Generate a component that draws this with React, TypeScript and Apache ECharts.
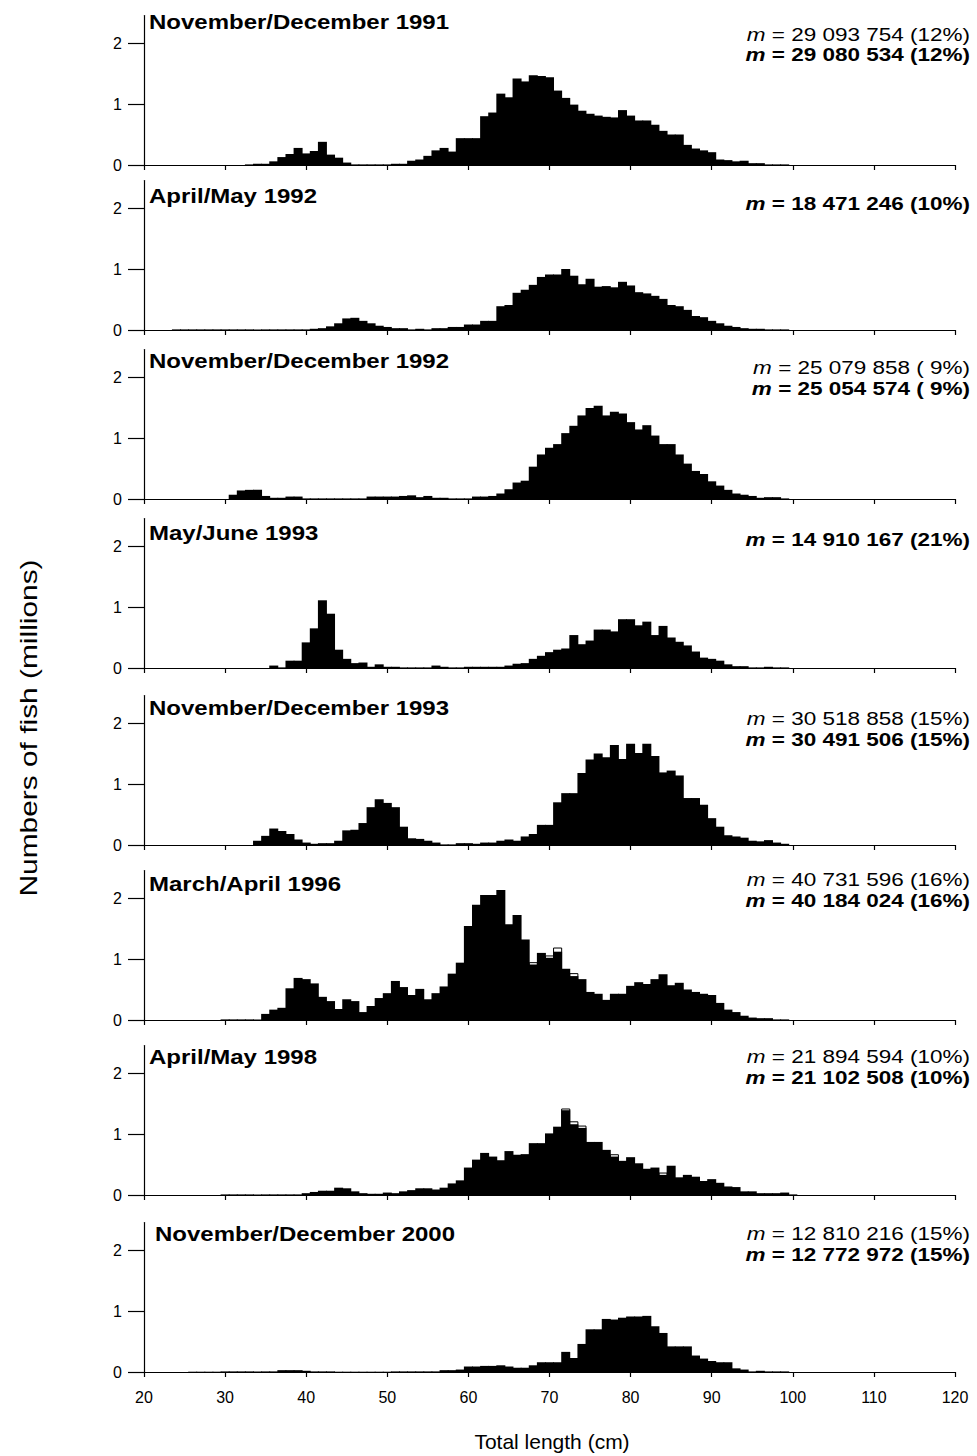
import React, { useEffect, useRef } from "react";
import * as echarts from "echarts";

// Length-frequency histograms, 1-cm classes (value = millions of fish)
const lengthMin = 20;
const lengthMax = 120;
const lengthStep = 10;
const yTickValues = [0, 1, 2];

const panelTitles = [
  "November/December 1991",
  "April/May 1992",
  "November/December 1992",
  "May/June 1993",
  "November/December 1993",
  "March/April 1996",
  "April/May 1998",
  "November/December 2000",
];

// abundance estimates: plain line (all samples) and bold line (analysed samples)
const mPlain = [
  "29 093 754 (12%)",
  null,
  "25 079 858 ( 9%)",
  null,
  "30 518 858 (15%)",
  "40 731 596 (16%)",
  "21 894 594 (10%)",
  "12 810 216 (15%)",
];
const mBold = [
  "29 080 534 (12%)",
  "18 471 246 (10%)",
  "25 054 574 ( 9%)",
  "14 910 167 (21%)",
  "30 491 506 (15%)",
  "40 184 024 (16%)",
  "21 102 508 (10%)",
  "12 772 972 (15%)",
];

const nd1991Start = 33;
const nd1991 = [
  0.01, 0.02, 0.02, 0.06, 0.13, 0.18, 0.28, 0.19, 0.23, 0.38, 0.17, 0.12, 0.04, 0.01, 0.01, 0.01, 0.01, 0.01,
  0.02, 0.02, 0.07, 0.09, 0.15, 0.24, 0.28, 0.22, 0.44, 0.44, 0.44, 0.8, 0.86, 1.17, 1.11, 1.42, 1.37, 1.47,
  1.46, 1.44, 1.22, 1.1, 0.99, 0.89, 0.84, 0.81, 0.79, 0.78, 0.9, 0.81, 0.73, 0.73, 0.66, 0.56, 0.5, 0.5, 0.33,
  0.27, 0.24, 0.21, 0.09, 0.08, 0.06, 0.07, 0.03, 0.03, 0.01, 0.01, 0.01,
];

const am1992Start = 24;
const am1992 = [
  0.01, 0.01, 0.01, 0.01, 0.01, 0.01, 0.01, 0.01, 0.01, 0.01, 0.01, 0.01, 0.01, 0.01, 0.01, 0.01, 0.01,
  0.02, 0.03, 0.06, 0.11, 0.19, 0.2, 0.15, 0.11, 0.07, 0.05, 0.03, 0.03, 0.01, 0.02, 0.01, 0.03, 0.03, 0.05,
  0.05, 0.09, 0.09, 0.15, 0.15, 0.39, 0.41, 0.61, 0.66, 0.74, 0.87, 0.91, 0.91, 1.0, 0.89, 0.75, 0.84, 0.71,
  0.72, 0.7, 0.79, 0.73, 0.62, 0.6, 0.56, 0.51, 0.41, 0.39, 0.33, 0.23, 0.21, 0.15, 0.11, 0.07, 0.05, 0.03,
  0.02, 0.02, 0.01, 0.01, 0.01,
];

const nd1992Start = 31;
const nd1992 = [
  0.07, 0.14, 0.15, 0.15, 0.05, 0.02, 0.02, 0.04, 0.04, 0.01, 0.01, 0.01, 0.01, 0.01, 0.01, 0.01, 0.01, 0.04,
  0.04, 0.04, 0.04, 0.05, 0.06, 0.03, 0.05, 0.02, 0.02, 0.01, 0.01, 0.01, 0.04, 0.04, 0.05, 0.09, 0.16, 0.27,
  0.3, 0.53, 0.73, 0.84, 0.9, 1.08, 1.2, 1.37, 1.49, 1.53, 1.37, 1.43, 1.4, 1.26, 1.14, 1.21, 1.04, 0.9, 0.9,
  0.73, 0.58, 0.46, 0.41, 0.29, 0.22, 0.15, 0.09, 0.07, 0.05, 0.02, 0.03, 0.03, 0.01,
];

const mj1993Start = 36;
const mj1993 = [
  0.04, 0.01, 0.12, 0.12, 0.42, 0.65, 1.11, 0.89, 0.3, 0.15, 0.08, 0.09, 0.02, 0.06, 0.02, 0.02, 0.01, 0.01,
  0.01, 0.01, 0.04, 0.02, 0.01, 0.01, 0.02, 0.02, 0.02, 0.02, 0.02, 0.04, 0.07, 0.08, 0.15, 0.2, 0.26, 0.3,
  0.32, 0.54, 0.39, 0.45, 0.63, 0.63, 0.6, 0.8, 0.8, 0.7, 0.76, 0.54, 0.69, 0.5, 0.43, 0.37, 0.27, 0.17, 0.15,
  0.12, 0.06, 0.03, 0.03, 0.01, 0.01, 0.02, 0.01, 0.01,
];

const nd1993Start = 34;
const nd1993 = [
  0.07, 0.15, 0.27, 0.23, 0.18, 0.09, 0.04, 0.02, 0.03, 0.03, 0.07, 0.24, 0.25, 0.36, 0.62, 0.75, 0.69, 0.62,
  0.3, 0.11, 0.1, 0.07, 0.04, 0.01, 0.01, 0.03, 0.03, 0.02, 0.04, 0.04, 0.07, 0.09, 0.07, 0.14, 0.18, 0.33,
  0.33, 0.7, 0.85, 0.85, 1.18, 1.4, 1.5, 1.44, 1.64, 1.41, 1.66, 1.51, 1.66, 1.46, 1.19, 1.22, 1.14, 0.77,
  0.77, 0.66, 0.44, 0.3, 0.16, 0.14, 0.12, 0.07, 0.06, 0.08, 0.04, 0.02,
];

const ma1996Start = 30;
const ma1996 = [
  0.01, 0.01, 0.01, 0.01, 0.01, 0.1, 0.17, 0.2, 0.52, 0.69, 0.67, 0.6, 0.38, 0.31, 0.18, 0.34, 0.31, 0.13,
  0.23, 0.36, 0.44, 0.64, 0.54, 0.41, 0.51, 0.34, 0.44, 0.55, 0.76, 0.94, 1.54, 1.89, 2.05, 2.05, 2.13, 1.57,
  1.72, 1.32, 0.91, 1.1, 1.02, 1.12, 0.84, 0.72, 0.67, 0.46, 0.43, 0.33, 0.43, 0.43, 0.56, 0.62, 0.59, 0.67,
  0.75, 0.57, 0.61, 0.5, 0.46, 0.43, 0.41, 0.28, 0.17, 0.13, 0.07, 0.04, 0.03, 0.03, 0.01, 0.01,
];
// classes where the all-samples estimate stands above the filled one
const ma1996Upper: [number, number][] = [
  [68, 0.94],
  [70, 1.05],
  [71, 1.18],
  [73, 0.76],
];

const am1998Start = 30;
const am1998 = [
  0.01, 0.01, 0.01, 0.01, 0.01, 0.01, 0.01, 0.01, 0.01, 0.01, 0.03, 0.05, 0.07, 0.07, 0.12, 0.11, 0.06, 0.03,
  0.02, 0.02, 0.04, 0.03, 0.06, 0.08, 0.11, 0.11, 0.09, 0.12, 0.19, 0.24, 0.45, 0.58, 0.69, 0.63, 0.57, 0.72,
  0.66, 0.67, 0.85, 0.85, 1.01, 1.12, 1.39, 1.16, 1.1, 0.87, 0.87, 0.74, 0.63, 0.56, 0.62, 0.52, 0.43, 0.45,
  0.33, 0.48, 0.29, 0.33, 0.3, 0.23, 0.26, 0.2, 0.14, 0.13, 0.06, 0.06, 0.03, 0.03, 0.03, 0.04, 0.01,
];
const am1998Upper: [number, number][] = [
  [72, 1.41],
  [73, 1.2],
  [74, 1.13],
  [78, 0.66],
  [84, 0.36],
];

const nd2000Start = 26;
const nd2000 = [
  0.005, 0.005, 0.005, 0.005, 0.01, 0.01, 0.01, 0.01, 0.01, 0.01, 0.01, 0.03, 0.03, 0.03, 0.02, 0.01, 0.01,
  0.01, 0.005, 0.005, 0.005, 0.005, 0.005, 0.005, 0.005, 0.01, 0.01, 0.01, 0.01, 0.01, 0.01, 0.03, 0.03, 0.04,
  0.09, 0.09, 0.1, 0.1, 0.11, 0.09, 0.07, 0.07, 0.11, 0.16, 0.16, 0.16, 0.33, 0.23, 0.46, 0.7, 0.7, 0.87, 0.86,
  0.89, 0.91, 0.91, 0.92, 0.75, 0.64, 0.42, 0.42, 0.42, 0.27, 0.22, 0.18, 0.16, 0.16, 0.06, 0.04, 0.01, 0.02,
  0.01, 0.01, 0.01,
];

const panelStarts = [nd1991Start, am1992Start, nd1992Start, mj1993Start, nd1993Start, ma1996Start, am1998Start, nd2000Start];
const panelValues = [nd1991, am1992, nd1992, mj1993, nd1993, ma1996, am1998, nd2000];
const panelUpper: ([number, number][] | null)[] = [null, null, null, null, null, ma1996Upper, am1998Upper, null];

// page layout (pixels)
const W = 977;
const H = 1456;
const FONT = "'Liberation Sans', Arial, Helvetica, sans-serif";
const zeroY = [165, 330, 499, 668, 845, 1020, 1195, 1372];
const unitPx = 61;
const yMax = 2.45;
const plotLeft = 144;
const plotRight = 22;
const titleY = [22, 196, 361, 533, 708, 884, 1057, 1234];
const titleX = [149, 149, 149, 149, 149, 149, 149, 155];
const mLineY: number[][] = [[35, 55], [204], [368, 389], [540], [719, 740], [880, 901], [1057, 1078], [1234, 1255]];

// one rectangle per 1-cm class, centred on the class value
function barItem(fill: string, stroke: string | null, lw: number, overlap: number) {
  return (_params: any, api: any) => {
    const x = api.value(0) as number;
    const v = api.value(1) as number;
    const a = api.coord([x - 0.5, 0]);
    const b = api.coord([x + 0.5, v]);
    const style: any = { fill };
    if (stroke) {
      style.stroke = stroke;
      style.lineWidth = lw;
    }
    return {
      type: "rect",
      shape: { x: a[0] - overlap, y: b[1], width: b[0] - a[0] + 2 * overlap, height: a[1] - b[1] },
      style,
    };
  };
}

export default function App() {
  const ref = useRef<HTMLDivElement>(null);

  useEffect(() => {
    document.body.style.margin = "0";
    const chart = echarts.init(ref.current!, null, { renderer: "svg", width: W, height: H });
    const n = panelTitles.length;

    const grid = zeroY.map((z) => ({
      left: plotLeft,
      right: plotRight,
      top: z - yMax * unitPx,
      height: yMax * unitPx,
      containLabel: false,
    }));

    const xAxis = zeroY.map((_, i) => ({
      type: "value",
      gridIndex: i,
      min: lengthMin,
      max: lengthMax,
      interval: lengthStep,
      splitLine: { show: false },
      axisLine: { show: true, onZero: false, lineStyle: { color: "#000", width: 1.2 } },
      axisTick: { show: true, inside: false, length: 5, lineStyle: { color: "#000", width: 1.2 } },
      axisLabel: {
        show: i === n - 1,
        color: "#000",
        fontSize: 16,
        fontFamily: FONT,
        margin: 17,
      },
    }));

    const yAxis = zeroY.map((_, i) => ({
      type: "value",
      gridIndex: i,
      min: 0,
      max: yMax,
      interval: 1,
      splitLine: { show: false },
      axisLine: { show: true, lineStyle: { color: "#000", width: 1.2 } },
      axisTick: { show: true, inside: false, length: 16, customValues: yTickValues, lineStyle: { color: "#000", width: 1.2 } },
      axisLabel: { color: "#000", fontSize: 16, fontFamily: FONT, margin: 22, customValues: yTickValues },
    }));

    const series: any[] = [];
    panelValues.forEach((vals, i) => {
      const start = panelStarts[i];
      const upper = panelUpper[i];
      if (upper) {
        series.push({
          type: "custom",
          xAxisIndex: i,
          yAxisIndex: i,
          renderItem: barItem("#fff", "#000", 1, 0),
          data: upper,
          silent: true,
        });
      }
      series.push({
        type: "custom",
        xAxisIndex: i,
        yAxisIndex: i,
        renderItem: barItem("#000", null, 0, 0.45),
        data: vals.map((v, k) => [start + k, v]),
        silent: true,
      });
    });

    const graphic: any[] = [];
    panelTitles.forEach((t, i) => {
      graphic.push({
        type: "text",
        x: titleX[i],
        y: titleY[i],
        scaleX: 1.2,
        style: {
          text: t,
          fontFamily: FONT,
          fontSize: 20,
          fontWeight: "bold",
          fill: "#000",
          align: "left",
          verticalAlign: "middle",
        },
      });
      const lines: { text: string; bold: boolean }[] = [];
      if (mPlain[i]) lines.push({ text: mPlain[i] as string, bold: false });
      lines.push({ text: mBold[i], bold: true });
      lines.forEach((ln, k) => {
        graphic.push({
          type: "text",
          x: 970,
          y: mLineY[i][k],
          scaleX: 1.25,
          style: {
            text: "{m|m} = " + ln.text,
            fontFamily: FONT,
            fontSize: 18,
            fontWeight: ln.bold ? "bold" : "normal",
            fill: "#000",
            align: "right",
            verticalAlign: "middle",
            rich: {
              m: {
                fontFamily: FONT,
                fontSize: 18,
                fontStyle: "italic",
                fontWeight: ln.bold ? "bold" : "normal",
                fill: "#000",
              },
            },
          },
        });
      });
    });

    graphic.push({
      type: "text",
      x: 552,
      y: 1441,
      style: {
        text: "Total length (cm)",
        fontFamily: FONT,
        fontSize: 21,
        fill: "#000",
        align: "center",
        verticalAlign: "middle",
      },
    });
    graphic.push({
      type: "text",
      x: 29,
      y: 728,
      rotation: Math.PI / 2,
      scaleX: 1.3,
      style: {
        text: "Numbers of fish (millions)",
        fontFamily: FONT,
        fontSize: 23,
        fill: "#000",
        align: "center",
        verticalAlign: "middle",
      },
    });

    chart.setOption({
      animation: false,
      backgroundColor: "#fff",
      grid,
      xAxis,
      yAxis,
      series,
      graphic,
    });

    return () => chart.dispose();
  }, []);

  return <div ref={ref} style={{ position: "absolute", left: 0, top: 0, width: W, height: H }} />;
}
